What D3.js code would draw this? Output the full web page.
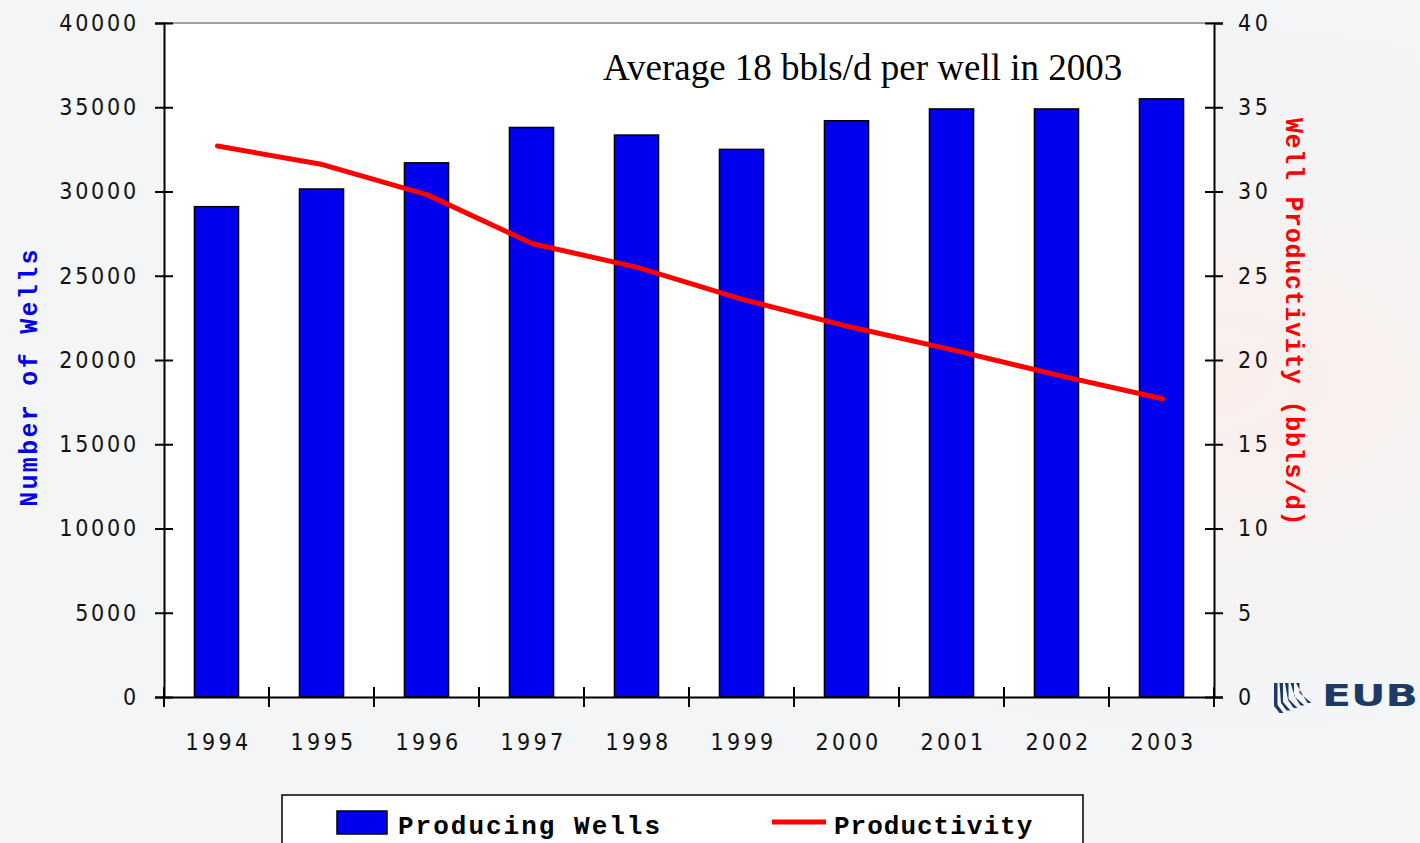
<!DOCTYPE html>
<html>
<head>
<meta charset="utf-8">
<script src="https://cdn.jsdelivr.net/npm/d3@7"></script>
<style>
  html, body { margin: 0; padding: 0; overflow: hidden; }
  body { background: #f3f5f7; }
</style>
</head>
<body>
<svg id="chart" width="1420" height="843"></svg>
<script>
const years = ["1994", "1995", "1996", "1997", "1998", "1999", "2000", "2001", "2002", "2003"];
const wells = [29100, 30150, 31700, 33800, 33350, 32500, 34200, 34900, 34900, 35500];
const productivity = [32.7, 31.6, 29.8, 26.9, 25.5, 23.6, 22.0, 20.6, 19.1, 17.7];
const leftTicks = [0, 5000, 10000, 15000, 20000, 25000, 30000, 35000, 40000];
const rightTicks = [0, 5, 10, 15, 20, 25, 30, 35, 40];

const width = 1420, height = 843;
const plot = {left: 164, right: 1214, top: 23, bottom: 697};
const tickFont = "'Liberation Sans Narrow', 'DejaVu Sans Condensed', 'Arial Narrow', sans-serif";
const monoFont = "'Liberation Mono', 'DejaVu Sans Mono', 'Courier New', monospace";

const svg = d3.select("#chart");

// faded background
const defs = svg.append("defs");
const bg = defs.append("radialGradient").attr("id", "bgpink")
    .attr("cx", "0.85").attr("cy", "0.45").attr("r", "0.5");
bg.append("stop").attr("offset", "0").attr("stop-color", "#fbeeea");
bg.append("stop").attr("offset", "1").attr("stop-color", "#f3f5f7").attr("stop-opacity", 0);
svg.append("rect").attr("width", width).attr("height", height).attr("fill", "#f3f5f7");
svg.append("rect").attr("width", width).attr("height", height).attr("fill", "url(#bgpink)");

const x = d3.scaleBand().domain(years).range([plot.left, plot.right]).padding(0);
const y = d3.scaleLinear().domain([0, 40000]).range([plot.bottom, plot.top]);
const y2 = d3.scaleLinear().domain([0, 40]).range([plot.bottom, plot.top]);
const barW = x.bandwidth() * 0.42;

// plot area
svg.append("rect")
    .attr("x", plot.left).attr("y", plot.top)
    .attr("width", plot.right - plot.left).attr("height", plot.bottom - plot.top)
    .attr("fill", "#ffffff");
svg.append("line")
    .attr("x1", plot.left).attr("x2", plot.right)
    .attr("y1", plot.top).attr("y2", plot.top)
    .attr("stroke", "#808080").attr("stroke-width", 1.5);

// bars
svg.append("g").selectAll("rect")
    .data(years)
    .enter().append("rect")
    .attr("x", (d, i) => x(d) + x.bandwidth() / 2 - barW / 2)
    .attr("y", (d, i) => y(wells[i]))
    .attr("width", barW)
    .attr("height", (d, i) => y(0) - y(wells[i]))
    .attr("fill", "#0000ee")
    .attr("stroke", "#000")
    .attr("stroke-width", 1.5);

// productivity line
const line = d3.line()
    .x((d, i) => x(years[i]) + x.bandwidth() / 2 + 1)
    .y(d => y2(d));
svg.append("path")
    .datum(productivity)
    .attr("d", line)
    .attr("fill", "none")
    .attr("stroke", "#ff0000")
    .attr("stroke-width", 5)
    .attr("stroke-linecap", "round")
    .attr("stroke-linejoin", "round");

// left axis
const gl = svg.append("g")
    .attr("transform", `translate(${plot.left},0)`)
    .call(d3.axisLeft(y).tickValues(leftTicks).tickSize(9).tickPadding(16).tickFormat(d3.format("d")));
gl.select(".domain").attr("stroke", "#000").attr("stroke-width", 2);
gl.selectAll(".tick line").attr("x1", 9).attr("stroke", "#000").attr("stroke-width", 2);
gl.selectAll(".tick text")
    .attr("font-family", tickFont).attr("font-size", 23)
    .attr("letter-spacing", 2.8).attr("fill", "#111");

// right axis
const gr = svg.append("g")
    .attr("transform", `translate(${plot.right},0)`)
    .call(d3.axisRight(y2).tickValues(rightTicks).tickSize(9).tickPadding(15));
gr.select(".domain").attr("stroke", "#000").attr("stroke-width", 2);
gr.selectAll(".tick line").attr("x1", -9).attr("stroke", "#000").attr("stroke-width", 2);
gr.selectAll(".tick text")
    .attr("font-family", tickFont).attr("font-size", 23)
    .attr("letter-spacing", 3.5).attr("fill", "#111");

// bottom axis
const gb = svg.append("g")
    .attr("transform", `translate(0,${plot.bottom})`)
    .call(d3.axisBottom(x).tickSize(0).tickPadding(37));
gb.select(".domain").attr("stroke", "#000").attr("stroke-width", 2);
gb.selectAll(".tick text")
    .attr("font-family", tickFont).attr("font-size", 23)
    .attr("letter-spacing", 3.3).attr("dx", 2).attr("fill", "#111");
gb.selectAll(".boundary")
    .data(years.concat(["end"]))
    .enter().append("line")
    .attr("class", "boundary")
    .attr("x1", d => d === "end" ? plot.right : x(d))
    .attr("x2", d => d === "end" ? plot.right : x(d))
    .attr("y1", -10).attr("y2", 10)
    .attr("stroke", "#000").attr("stroke-width", 2);

// axis titles
svg.append("text")
    .attr("transform", `translate(37,377) rotate(-90)`)
    .attr("text-anchor", "middle")
    .attr("font-family", monoFont).attr("font-weight", "bold")
    .attr("font-size", 25).attr("letter-spacing", 2.3)
    .attr("fill", "#0000ee")
    .text("Number of Wells");

svg.append("text")
    .attr("transform", `translate(1286,322) rotate(90)`)
    .attr("text-anchor", "middle")
    .attr("font-family", monoFont).attr("font-weight", "bold")
    .attr("font-size", 25).attr("letter-spacing", 0.7)
    .attr("fill", "#ff0000")
    .text("Well Productivity (bbls/d)");

// annotation
svg.append("text")
    .attr("x", 603).attr("y", 80)
    .attr("font-family", "'Liberation Serif', 'Times New Roman', serif")
    .attr("font-size", 37).attr("fill", "#000")
    .text("Average 18 bbls/d per well in 2003");

// legend
const lg = svg.append("g");
lg.append("rect")
    .attr("x", 282).attr("y", 795).attr("width", 801).attr("height", 70)
    .attr("fill", "#fff").attr("stroke", "#000").attr("stroke-width", 1.5);
lg.append("rect")
    .attr("x", 337).attr("y", 811).attr("width", 50).attr("height", 23)
    .attr("fill", "#0000ee").attr("stroke", "#000").attr("stroke-width", 1.5);
lg.append("text")
    .attr("x", 398).attr("y", 834)
    .attr("font-family", monoFont).attr("font-weight", "bold")
    .attr("font-size", 26).attr("letter-spacing", 2).attr("fill", "#000")
    .text("Producing Wells");
lg.append("line")
    .attr("x1", 772).attr("x2", 826).attr("y1", 822).attr("y2", 822)
    .attr("stroke", "#ff0000").attr("stroke-width", 5);
lg.append("text")
    .attr("x", 834).attr("y", 834)
    .attr("font-family", monoFont).attr("font-weight", "bold")
    .attr("font-size", 26).attr("letter-spacing", 1).attr("fill", "#000")
    .text("Productivity");

// EUB logo
const logo = svg.append("g").attr("fill", "#1b3a66");
logo.selectAll("path.stripe")
    .data([0, 1, 2, 3, 4])
    .enter().append("path")
    .attr("class", "stripe")
    .attr("d", i => `M${1274 + i * 5.5},683 l3.5,0 l0,${22 - i * 3} l${6 + i * 1.5},${8 + i * 0.5} l-4,0 l-5.5,-${7 + i * 0.5} z`);
logo.append("text")
    .attr("x", 1322).attr("y", 706)
    .attr("font-family", "'DejaVu Sans', sans-serif").attr("font-weight", "bold")
    .attr("font-size", 31).attr("textLength", 96).attr("lengthAdjust", "spacingAndGlyphs")
    .text("EUB");
</script>
</body>
</html>
